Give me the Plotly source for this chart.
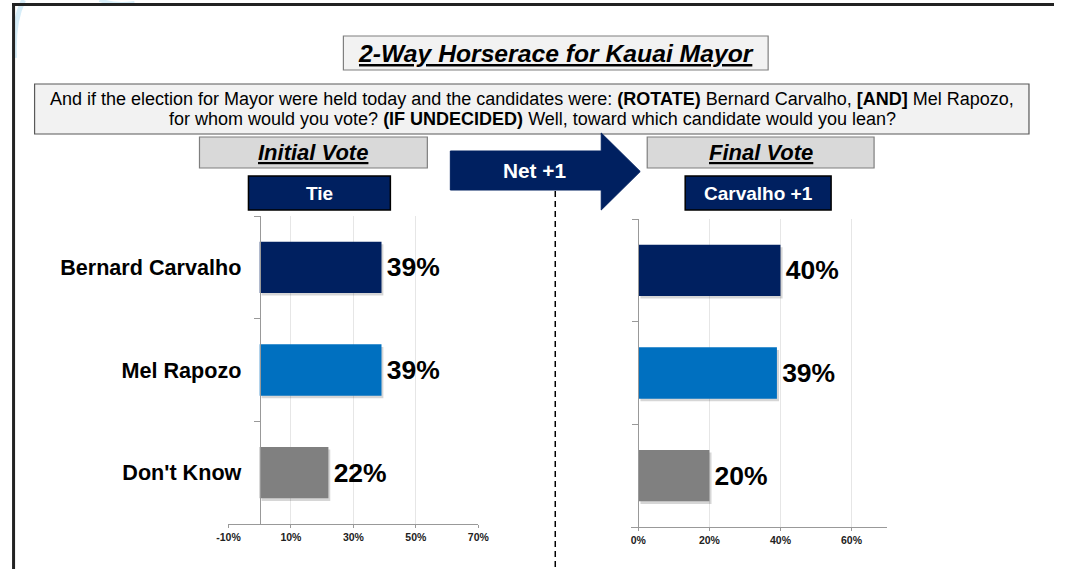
import plotly.graph_objects as go

# ---------------- data ----------------
categories = ["Bernard Carvalho", "Mel Rapozo", "Don't Know"]
initial_values = [39, 39, 22]
final_values = [40, 39, 20]
bar_colors = ["#002060", "#0070C0", "#808080"]
initial_ticks = [-10, 10, 30, 50, 70]
final_ticks = [0, 20, 40, 60]
title_text = "2-Way Horserace for Kauai Mayor"
question_line1 = ("And if the election for Mayor were held today and the candidates were: "
                  "<b>(ROTATE)</b> Bernard Carvalho, <b>[AND]</b> Mel Rapozo,")
question_line2 = ("for whom would you vote? <b>(IF UNDECIDED)</b> Well, toward which "
                  "candidate would you lean?")
left_header = "Initial Vote"
right_header = "Final Vote"
left_badge = "Tie"
right_badge = "Carvalho +1"
arrow_text = "Net +1"

W, H = 1065, 569
FONT = "Liberation Sans, Arial, sans-serif"

# the photographed page maps figure x to picture x as 12.4 + 0.979*x;
# target picture positions below are converted back through this mapping
OFF, SC = 12.4, 0.979


def px(X):
    return ((X - OFF) / SC) / W


def py(y):
    return 1 - y / H


fig = go.Figure()

# ---------------- bars (soft shadow, then bar) ----------------
for vals, xa, ya in [(initial_values, "x", "y"), (final_values, "x2", "y2")]:
    fig.add_trace(go.Bar(
        y=categories, x=vals, orientation="h", base=0.6,
        marker=dict(color="rgba(0,0,0,0.16)", line=dict(width=0)),
        width=0.5, offset=-0.225,
        xaxis=xa, yaxis=ya, showlegend=False, hoverinfo="skip",
    ))
    fig.add_trace(go.Bar(
        y=categories, x=vals, orientation="h",
        marker=dict(color=bar_colors, line=dict(width=0)),
        width=0.5, offset=-0.25,
        text=[f"<b>\u200a{v}%</b>" for v in vals], textposition="outside",
        textfont=dict(size=26.5, color="#000000", family=FONT),
        cliponaxis=False, xaxis=xa, yaxis=ya, showlegend=False,
        hoverinfo="skip",
    ))

# ---------------- axes ----------------
x1_dom = [px(229), px(479)]
x1_rng = [-10, 70]
x2_dom = [px(632), px(888)]
x2_rng = [-2, 70]


def zero_pos(dom, rng):
    return dom[0] + (0 - rng[0]) / (rng[1] - rng[0]) * (dom[1] - dom[0])


xcommon = dict(
    showgrid=True, gridcolor="#e6e6e6", gridwidth=1,
    zeroline=False, showline=True, linecolor="#999999", linewidth=1,
    ticks="outside", ticklen=3, tickcolor="#999999",
    tickfont=dict(size=10.5, color="#222222", family=FONT),
    fixedrange=True,
)
fig.update_layout(
    xaxis=dict(domain=x1_dom, range=x1_rng, anchor="y",
               tickvals=initial_ticks,
               ticktext=[f"<b>{v}%</b>" for v in initial_ticks], **xcommon),
    xaxis2=dict(domain=x2_dom, range=x2_rng, anchor="y2",
                tickvals=final_ticks,
                ticktext=[f"<b>{v}%</b>" for v in final_ticks], **xcommon),
    yaxis=dict(domain=[py(524), py(216)], type="category",
               range=[2.5, -0.5], anchor="free",
               position=zero_pos(x1_dom, x1_rng),
               showline=True, linecolor="#999999", linewidth=1,
               ticks="outside", ticklen=6, tickcolor="#999999",
               tickson="boundaries", showgrid=False,
               ticklabelstandoff=14,
               tickfont=dict(size=21.6, color="#000000", family=FONT),
               tickvals=categories,
               ticktext=[f"<b>{c}</b>" for c in categories],
               fixedrange=True),
    yaxis2=dict(domain=[py(527), py(219)], type="category",
                range=[2.5, -0.5], anchor="free",
                position=zero_pos(x2_dom, x2_rng),
                showline=True, linecolor="#999999", linewidth=1,
                ticks="outside", ticklen=6, tickcolor="#999999",
                tickson="boundaries", showgrid=False,
                showticklabels=False, fixedrange=True),
)

# ---------------- decorations ----------------
shapes = []
annotations = []


def rect(x0, y0, x1, y1, fill, line_color, lw=1.2):
    shapes.append(dict(type="rect", xref="paper", yref="paper",
                       x0=px(x0), x1=px(x1), y0=py(y1), y1=py(y0),
                       fillcolor=fill, line=dict(color=line_color, width=lw),
                       layer="below"))


def text(x, y, s, size, color="#000000", align="center"):
    annotations.append(dict(xref="paper", yref="paper", x=px(x), y=py(y),
                            text=s, showarrow=False, align=align,
                            xanchor="center", yanchor="middle",
                            font=dict(size=size, color=color, family=FONT)))


# faint watermark arcs (top-left)
shapes.append(dict(type="path", xref="paper", yref="paper",
                   path=f"M {px(24)},{py(0)} Q {px(13)},{py(22)} {px(15)},{py(58)}",
                   line=dict(color="#d6edf8", width=5)))
shapes.append(dict(type="path", xref="paper", yref="paper",
                   path=f"M {px(100)},{py(0)} Q {px(115)},{py(6)} {px(135)},{py(3)}",
                   line=dict(color="#d6edf8", width=4)))

# outer frame
shapes.append(dict(type="line", xref="paper", yref="paper",
                   x0=0, x1=1.0, y0=py(4.5), y1=py(4.5),
                   line=dict(color="#222222", width=3)))
shapes.append(dict(type="line", xref="paper", yref="paper",
                   x0=1.6 / W, x1=1.6 / W, y0=py(3), y1=0,
                   line=dict(color="#222222", width=3)))

# title box
rect(344, 36, 769, 70, "#f2f2f2", "#7f7f7f")
text(556.5, 53.5, f"<b><i><u>{title_text}</u></i></b>", 24.7)

# question box
rect(35, 84, 1030, 134, "#f2f2f2", "#595959")
text(533, 99, question_line1, 18)
text(533, 119, question_line2, 18)

# headers
rect(200, 137, 428, 168, "#d9d9d9", "#7f7f7f")
text(314, 153, f"<b><i><u>{left_header}</u></i></b>", 22)
rect(648, 137, 875, 168, "#d9d9d9", "#7f7f7f")
text(761.5, 153, f"<b><i><u>{right_header}</u></i></b>", 22)

# badges
rect(249, 176, 391, 210, "#002060", "#000000", 1.5)
text(320, 193.5, f"<b>{left_badge}</b>", 19, "#ffffff")
rect(686, 176, 832, 210, "#002060", "#000000", 1.5)
text(759, 193.5, f"<b>{right_badge}</b>", 19, "#ffffff")

# arrow
pts = [(451, 151), (602, 151), (602, 133), (641, 171.5), (602, 210),
       (602, 190), (451, 190)]
path = "M " + " L ".join(f"{px(x)},{py(y)}" for x, y in pts) + " Z"
shapes.append(dict(type="path", xref="paper", yref="paper", path=path,
                   fillcolor="#002060", line=dict(color="#002060", width=1)))
text(535, 171, f"<b>{arrow_text}</b>", 20.8, "#ffffff")

# dashed divider
shapes.append(dict(type="line", xref="paper", yref="paper",
                   x0=px(556), x1=px(556), y0=py(191), y1=0,
                   line=dict(color="#000000", width=1.5, dash="6px,4px")))

fig.update_layout(
    width=W, height=H, autosize=False,
    margin=dict(l=0, r=0, t=0, b=0),
    paper_bgcolor="#ffffff", plot_bgcolor="rgba(0,0,0,0)",
    shapes=shapes, annotations=annotations,
    font=dict(family=FONT),
    barmode="overlay",
)

fig.write_html(
    "out.html",
    config={"responsive": False, "displayModeBar": False},
    post_script=("document.body.style.margin='0';"
                 "document.body.style.padding='0';"
                 "document.body.style.overflow='hidden';"),
)
